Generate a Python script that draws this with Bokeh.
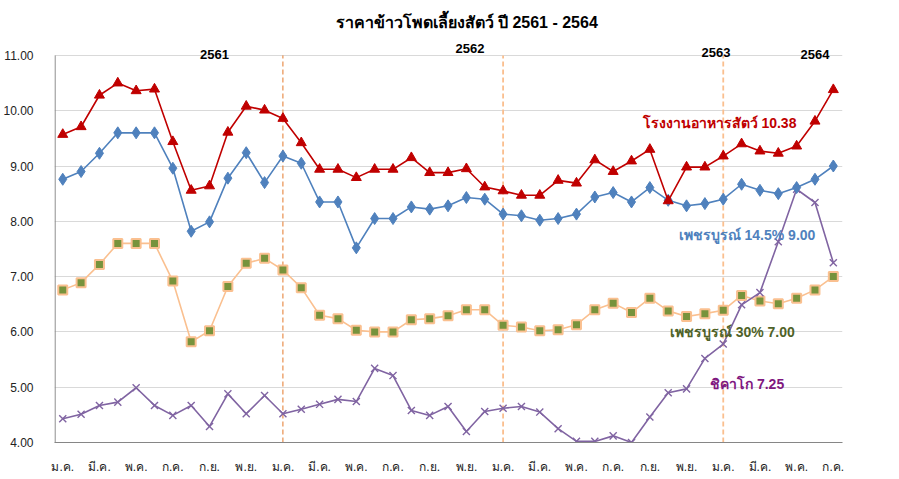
from bokeh.plotting import figure
from bokeh.models import FixedTicker, NumeralTickFormatter, Label, Range1d
from bokeh.embed import file_html
from bokeh.resources import INLINE

title_text = "ราคาข้าวโพดเลี้ยงสัตว์ ปี 2561 - 2564"
month_labels = ["ม.ค.", "มี.ค.", "พ.ค.", "ก.ค.", "ก.ย.", "พ.ย."]
year_labels = ["2561", "2562", "2563", "2564"]
year_starts = [12, 24, 36]

feedmill = [9.57, 9.71, 10.28, 10.50, 10.36, 10.39, 9.44, 8.56, 8.64, 9.61, 10.08, 10.01,
            9.86, 9.42, 8.94, 8.94, 8.79, 8.94, 8.94, 9.15, 8.88, 8.88, 8.95, 8.62,
            8.55, 8.47, 8.47, 8.74, 8.69, 9.11, 8.90, 9.09, 9.30, 8.37, 8.98, 8.98,
            9.18, 9.40, 9.27, 9.23, 9.36, 9.81, 10.38]
phet145 = [8.76, 8.90, 9.23, 9.60, 9.60, 9.60, 8.96, 7.82, 7.99, 8.78, 9.24, 8.70,
           9.18, 9.05, 8.35, 8.35, 7.52, 8.05, 8.05, 8.26, 8.22, 8.28, 8.43, 8.40,
           8.13, 8.10, 8.02, 8.05, 8.13, 8.44, 8.52, 8.35, 8.61, 8.38, 8.28, 8.32,
           8.40, 8.67, 8.56, 8.50, 8.61, 8.76, 9.00]
phet30 = [6.76, 6.89, 7.22, 7.60, 7.60, 7.60, 6.92, 5.82, 6.02, 6.82, 7.24, 7.33,
          7.12, 6.80, 6.30, 6.24, 6.03, 6.00, 6.00, 6.22, 6.24, 6.29, 6.40, 6.40,
          6.12, 6.09, 6.02, 6.04, 6.13, 6.40, 6.52, 6.35, 6.61, 6.38, 6.28, 6.33,
          6.39, 6.66, 6.56, 6.51, 6.61, 6.76, 7.00]
chicago = [4.43, 4.51, 4.67, 4.73, 4.99, 4.67, 4.49, 4.67, 4.29, 4.88, 4.52, 4.85,
           4.52, 4.60, 4.69, 4.78, 4.74, 5.34, 5.21, 4.58, 4.49, 4.65, 4.20, 4.56,
           4.62, 4.65, 4.55, 4.25, 4.02, 4.02, 4.12, 4.00, 4.46, 4.90, 4.97, 5.52,
           5.78, 6.49, 6.71, 7.63, 8.58, 8.34, 7.25]

x = list(range(len(feedmill)))
y_ticks = [4, 5, 6, 7, 8, 9, 10, 11]
FONT = "Tahoma, Liberation Sans, Arial, sans-serif"
X0 = -0.45

p = figure(width=883, height=476, output_backend="svg", toolbar_location=None,
           x_range=Range1d(X0, 42.5), y_range=Range1d(4, 11.36),
           min_border_left=52, min_border_right=41, min_border_top=35, min_border_bottom=33)
p.outline_line_color = None
p.background_fill_color = "white"

p.title.text = title_text
p.title.align = "left"
p.title.offset = 281
p.title.text_font = FONT
p.title.text_font_size = "16px"
p.title.text_font_style = "bold"
p.title.text_color = "black"

# grid
p.xgrid.grid_line_color = None
p.ygrid.grid_line_color = "#D9D9D9"
p.ygrid.grid_line_width = 1.2

# axes
p.yaxis.ticker = FixedTicker(ticks=y_ticks)
p.ygrid.ticker = FixedTicker(ticks=y_ticks)
p.yaxis.formatter = NumeralTickFormatter(format="0.00")
p.xaxis.ticker = FixedTicker(ticks=list(range(0, len(x), 2)))
p.xaxis.major_label_overrides = {i: month_labels[(i // 2) % 6] for i in range(0, len(x), 2)}
for ax in (p.xaxis[0], p.yaxis[0]):
    ax.axis_line_color = "#868686"
    ax.axis_line_width = 1.2
    ax.major_tick_line_color = None
    ax.minor_tick_line_color = None
    ax.major_label_text_font = FONT
    ax.major_label_text_font_size = "12px"
    ax.major_label_text_color = "#222222"
p.yaxis.axis_line_color = None
p.yaxis.major_label_standoff = 15
p.xaxis.major_label_standoff = 11

# y axis line only up to the top tick
p.segment(x0=[X0 + 0.03], y0=[y_ticks[0]], x1=[X0 + 0.03], y1=[y_ticks[-1]],
          line_color="#868686", line_width=1.2)

# year separators
sep_colors = ["#E4782A", "#FABF8F", "#FABF8F"]
sep_widths = [1.0, 1.8, 1.8]
for xv, c, w in zip(year_starts, sep_colors, sep_widths):
    p.segment(x0=[xv], y0=[y_ticks[0]], x1=[xv], y1=[y_ticks[-1]],
              line_color=c, line_width=w, line_dash="5 3")

# series
p.line(x, phet30, line_color="#FAC090", line_width=1.6)
p.scatter(x, phet30, marker="square", size=9, fill_color="#77933C", line_color="#FAC090", line_width=2)

p.line(x, chicago, line_color="#8064A2", line_width=1.6)
p.scatter(x, chicago, marker="x", size=10, line_color="#8064A2", line_width=1.4)

p.line(x, phet145, line_color="#4F81BD", line_width=1.6)
p.scatter(x, phet145, marker="diamond", size=12, fill_color="#4F81BD", line_color="#4F81BD")

p.line(x, feedmill, line_color="#C00000", line_width=1.6)
p.scatter(x, feedmill, marker="triangle", size=10, fill_color="#C00000", line_color="#C00000")

# year labels
for (xv, yv), t in zip([(8.27, 11.02), (22.2, 11.13), (35.6, 11.05), (41.0, 11.02)], year_labels):
    p.add_layout(Label(x=xv, y=yv, text=t, text_align="center", text_baseline="middle",
                       text_font=FONT, text_font_size="13px", text_font_style="bold",
                       text_color="black"))

# series value labels
series_labels = [
    (35.9, 9.78, f"โรงงานอาหารสัตว์  {feedmill[-1]:.2f}", "#C00000"),
    (37.4, 7.75, f"เพชรบูรณ์ 14.5%  {phet145[-1]:.2f}", "#4F81BD"),
    (36.6, 5.99, f"เพชรบูรณ์ 30%  {phet30[-1]:.2f}", "#4F6228"),
    (37.3, 5.06, f"ชิคาโก {chicago[-1]:.2f}", "#7F177F"),
]
for xv, yv, t, c in series_labels:
    p.add_layout(Label(x=xv, y=yv, text=t, text_align="center", text_baseline="middle",
                       text_font=FONT, text_font_size="14px", text_font_style="bold",
                       text_color=c))

open("out.html", "w").write(file_html(p, INLINE))
